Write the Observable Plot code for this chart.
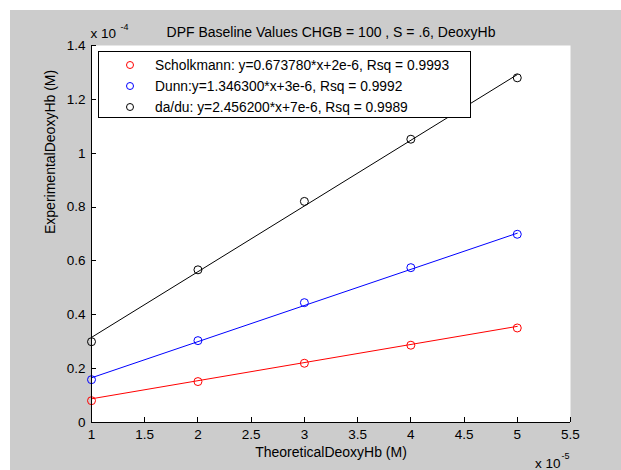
<!DOCTYPE html>
<html>
<head>
<meta charset="utf-8">
<script src="https://cdn.jsdelivr.net/npm/d3@7"></script>
<script src="https://cdn.jsdelivr.net/npm/@observablehq/plot@0.6"></script>
<style>
  html, body { margin: 0; padding: 0; background: #ffffff; }
  #wrap { position: absolute; left: 10px; top: 10px; width: 611px; height: 460px; background: #cccccc; }
  svg { font-family: "Liberation Sans", Arial, sans-serif; }
</style>
</head>
<body>
<div id="wrap"></div>
<script>
// ---- data (units: x in 1e-5 M, y in 1e-4 M) ----
const xValues = [1, 2, 3, 4, 5];
const scholkmann = [0.081, 0.152, 0.220, 0.287, 0.351];
const dunn       = [0.159, 0.304, 0.445, 0.575, 0.699];
const dadu       = [0.300, 0.567, 0.821, 1.052, 1.280];

// fitted line end points
const fitX = [1, 5];
const scholkmannFit = [0.088, 0.357];
const dunnFit       = [0.166, 0.703];
const daduFit       = [0.316, 1.292];

const seriesNames = ["Scholkmann", "Dunn", "da/du"];
const seriesColors = ["#ff0000", "#0000ff", "#000000"];
const legendLabels = [
  "Scholkmann: y=0.673780*x+2e-6, Rsq = 0.9993",
  "Dunn:y=1.346300*x+3e-6, Rsq = 0.9992",
  "da/du: y=2.456200*x+7e-6, Rsq = 0.9989"
];

const xDomain = [1, 5.5];
const yDomain = [0, 1.4];
const xTicks = [1, 1.5, 2, 2.5, 3, 3.5, 4, 4.5, 5, 5.5];
const xTickLabels = ["1", "1.5", "2", "2.5", "3", "3.5", "4", "4.5", "5", "5.5"];
const yTicks = [0, 0.2, 0.4, 0.6, 0.8, 1.0, 1.2, 1.4];
const yTickLabels = ["0", "0.2", "0.4", "0.6", "0.8", "1", "1.2", "1.4"];

const title = "DPF Baseline Values CHGB = 100 , S = .6, DeoxyHb";
const xLabel = "TheoreticalDeoxyHb (M)";
const yLabel = "ExperimentalDeoxyHb (M)";

// ---- tables built from the arrays ----
const seriesValues = [scholkmann, dunn, dadu];
const seriesFits = [scholkmannFit, dunnFit, daduFit];
const points = [];
seriesValues.forEach((vals, s) => vals.forEach((v, i) => points.push({x: xValues[i], y: v, series: seriesNames[s]})));
const fits = [];
seriesFits.forEach((vals, s) => vals.forEach((v, i) => fits.push({x: fitX[i], y: v, series: seriesNames[s]})));

const ink = "#000000";
const ls = "0.3px";

const chart = Plot.plot({
  width: 611,
  height: 460,
  marginLeft: 81,
  marginRight: 51,
  marginTop: 35,
  marginBottom: 48,
  style: {background: "transparent", fontSize: "13.5px", fontFamily: "Liberation Sans, Arial, sans-serif", color: ink, overflow: "visible"},
  x: {domain: xDomain},
  y: {domain: yDomain},
  color: {domain: seriesNames, range: seriesColors},
  marks: [
    Plot.frame({fill: "#ffffff", stroke: "none"}),
    Plot.line(fits, {x: "x", y: "y", z: "series", stroke: "series", strokeWidth: 1}),
    Plot.dot(points, {x: "x", y: "y", stroke: "series", r: 4, strokeWidth: 1, fill: "none"}),
    Plot.ruleY([yDomain[0]], {stroke: ink, strokeWidth: 1}),
    Plot.ruleX([xDomain[0]], {stroke: ink, strokeWidth: 1}),
    // tick labels
    Plot.axisX(xTicks, {tickSize: 0, tickPadding: 7, tickFormat: d => xTickLabels[xTicks.indexOf(d)], label: null, fontSize: 13.5, fill: ink}),
    Plot.axisY(yTicks, {tickSize: 0, tickPadding: 6, tickFormat: d => yTickLabels[yTicks.indexOf(d)], label: null, fontSize: 13.5, fill: ink}),
    // titles
    Plot.text([title], {frameAnchor: "top", lineAnchor: "middle", dy: -13, fontSize: 14, fill: ink, letterSpacing: ls}),
    Plot.text([xLabel], {frameAnchor: "bottom", lineAnchor: "middle", dy: 30, fontSize: 14, fill: ink, letterSpacing: ls}),
    Plot.text([yLabel], {frameAnchor: "left", lineAnchor: "middle", dx: -41, rotate: -90, fontSize: 14, fill: ink, letterSpacing: ls}),
    // exponents
    Plot.text(["x 10"], {frameAnchor: "top-left", lineAnchor: "middle", textAnchor: "start", dx: -1, dy: -12, fontSize: 13.5, fill: ink}),
    Plot.text(["-4"], {frameAnchor: "top-left", lineAnchor: "middle", textAnchor: "start", dx: 29, dy: -18, fontSize: 9, fill: ink}),
    Plot.text(["x 10"], {frameAnchor: "bottom-right", lineAnchor: "middle", textAnchor: "end", dx: -10, dy: 41, fontSize: 13.5, fill: ink}),
    Plot.text(["-5"], {frameAnchor: "bottom-right", lineAnchor: "middle", textAnchor: "start", dx: -9, dy: 34, fontSize: 9, fill: ink})
  ]
});

const svg = d3.select(chart);
const sx = chart.scale("x");
const sy = chart.scale("y");
const x0 = sx.apply(xDomain[0]);
const y0 = sy.apply(yDomain[0]);

// inward tick marks (MATLAB style), positioned through Plot's scales
const tg = svg.append("g").attr("stroke", ink).attr("stroke-width", 1).attr("fill", "none");
xTicks.forEach(t => {
  const px = Math.round(sx.apply(t)) + 0.5;
  tg.append("line").attr("x1", px).attr("x2", px).attr("y1", y0).attr("y2", y0 - 5);
});
yTicks.forEach(t => {
  const py = Math.round(sy.apply(t)) + 0.5;
  tg.append("line").attr("x1", x0).attr("x2", x0 + 5).attr("y1", py).attr("y2", py);
});

// legend box (drawn on top, like MATLAB's legend)
const lg = svg.append("g").attr("class", "legend");
lg.append("rect")
  .attr("x", 88.5).attr("y", 41.5).attr("width", 372).attr("height", 66)
  .attr("fill", "#ffffff").attr("stroke", ink).attr("stroke-width", 1);
const rowY = [55, 76, 97];
legendLabels.forEach((t, i) => {
  lg.append("circle").attr("cx", 120).attr("cy", rowY[i]).attr("r", 3.5)
    .attr("fill", "none").attr("stroke", seriesColors[i]).attr("stroke-width", 1);
  lg.append("text").attr("x", 145).attr("y", rowY[i]).attr("dy", "0.35em")
    .attr("text-anchor", "start")
    .attr("font-size", 13.8).attr("fill", ink).text(t);
});

document.getElementById("wrap").appendChild(chart);
</script>
</body>
</html>
